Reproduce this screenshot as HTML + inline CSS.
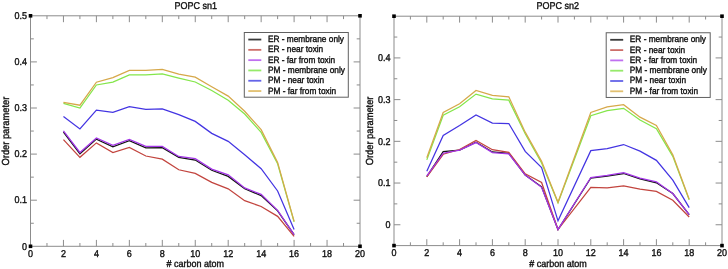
<!DOCTYPE html>
<html><head><meta charset="utf-8"><title>POPC order parameters</title>
<style>
html,body{margin:0;padding:0;background:#fff;}
body{width:728px;height:269px;overflow:hidden;}
svg{display:block;text-rendering:geometricPrecision;-webkit-font-smoothing:antialiased;will-change:transform;font-family:"Liberation Sans", sans-serif;font-size:9.0px;}
</style></head>
<body>
<svg width="728" height="269" viewBox="0 0 728 269">
<rect width="100%" height="100%" fill="#fff"/>
<g fill="none" stroke-width="1.25" stroke-linejoin="miter">
<polyline points="63.45,132.2 79.92,153.73 96.4,139.12 112.88,146.72 129.35,140.73 145.82,147.92 162.3,147.65 178.78,157.33 195.25,160.09 211.72,170.24 228.2,176.41 244.68,188.81 261.15,195.59 277.62,210.8 294.1,234.59" stroke="#141414"/>
<polyline points="63.45,139.62 79.92,157.33 96.4,142.9 112.88,152.49 129.35,147.42 145.82,155.99 162.3,159.17 178.78,169.77 195.25,173.46 211.72,182.41 228.2,188.81 244.68,200.66 261.15,206.52 277.62,216.34 294.1,236.3" stroke="#c2443e"/>
<polyline points="63.45,130.82 79.92,152.49 96.4,137.97 112.88,145.34 129.35,139.39 145.82,146.4 162.3,146.4 178.78,156.41 195.25,158.71 211.72,169.08 228.2,174.85 244.68,187.89 261.15,194.39 277.62,210.34 294.1,234.59" stroke="#a436e8"/>
<polyline points="63.45,103.39 79.92,108 96.4,84.95 112.88,82.18 129.35,74.81 145.82,74.81 162.3,73.89 178.78,78.04 195.25,82 211.72,90.48 228.2,100.16 244.68,113.99 261.15,132.43 277.62,163.78 294.1,221.87" stroke="#84e64a"/>
<polyline points="63.45,116.39 79.92,129.02 96.4,110.12 112.88,112.38 129.35,106.62 145.82,109.38 162.3,108.92 178.78,114.59 195.25,121.37 211.72,133.36 228.2,141.38 244.68,154.79 261.15,168.71 277.62,190.98 294.1,229.38" stroke="#4334e2"/>
<polyline points="63.45,102.47 79.92,105.23 96.4,82.18 112.88,77.57 129.35,70.38 145.82,70.38 162.3,69.41 178.78,74.12 195.25,77.11 211.72,86.79 228.2,96.11 244.68,111.23 261.15,129.67 277.62,162.4 294.1,221.41" stroke="#d6a84a"/>
</g>
<rect x="30.5" y="15.8" width="329.5" height="230.5" fill="none" stroke="#8c8c8c" stroke-width="1.0"/>
<path d="M46.98 246.3v-3.3M46.98 15.8v3.3M63.45 246.3v-6.4M63.45 15.8v6.4M79.92 246.3v-3.3M79.92 15.8v3.3M96.4 246.3v-6.4M96.4 15.8v6.4M112.88 246.3v-3.3M112.88 15.8v3.3M129.35 246.3v-6.4M129.35 15.8v6.4M145.82 246.3v-3.3M145.82 15.8v3.3M162.3 246.3v-6.4M162.3 15.8v6.4M178.78 246.3v-3.3M178.78 15.8v3.3M195.25 246.3v-6.4M195.25 15.8v6.4M211.72 246.3v-3.3M211.72 15.8v3.3M228.2 246.3v-6.4M228.2 15.8v6.4M244.68 246.3v-3.3M244.68 15.8v3.3M261.15 246.3v-6.4M261.15 15.8v6.4M277.62 246.3v-3.3M277.62 15.8v3.3M294.1 246.3v-6.4M294.1 15.8v6.4M310.57 246.3v-3.3M310.57 15.8v3.3M327.05 246.3v-6.4M327.05 15.8v6.4M343.52 246.3v-3.3M343.52 15.8v3.3M30.5 200.2h6.4M360 200.2h-6.4M30.5 154.1h6.4M360 154.1h-6.4M30.5 108h6.4M360 108h-6.4M30.5 61.9h6.4M360 61.9h-6.4M30.5 223.25h3.3M360 223.25h-3.3M30.5 177.15h3.3M360 177.15h-3.3M30.5 131.05h3.3M360 131.05h-3.3M30.5 84.95h3.3M360 84.95h-3.3M30.5 38.85h3.3M360 38.85h-3.3" stroke="#8c8c8c" stroke-width="1.0" fill="none"/>
<rect x="28.7" y="14" width="3.6" height="3.6" fill="#000"/>
<rect x="358.2" y="14" width="3.6" height="3.6" fill="#000"/>
<rect x="28.7" y="244.5" width="3.6" height="3.6" fill="#000"/>
<rect x="358.2" y="244.5" width="3.6" height="3.6" fill="#000"/>
<g fill="#111" stroke="#111" stroke-width="0.35">
<text transform="translate(30.5 256.8) scale(1 1.1)" text-anchor="middle">0</text>
<text transform="translate(63.45 256.8) scale(1 1.1)" text-anchor="middle">2</text>
<text transform="translate(96.4 256.8) scale(1 1.1)" text-anchor="middle">4</text>
<text transform="translate(129.35 256.8) scale(1 1.1)" text-anchor="middle">6</text>
<text transform="translate(162.3 256.8) scale(1 1.1)" text-anchor="middle">8</text>
<text transform="translate(195.25 256.8) scale(1 1.1)" text-anchor="middle">10</text>
<text transform="translate(228.2 256.8) scale(1 1.1)" text-anchor="middle">12</text>
<text transform="translate(261.15 256.8) scale(1 1.1)" text-anchor="middle">14</text>
<text transform="translate(294.1 256.8) scale(1 1.1)" text-anchor="middle">16</text>
<text transform="translate(327.05 256.8) scale(1 1.1)" text-anchor="middle">18</text>
<text transform="translate(360 256.8) scale(1 1.1)" text-anchor="middle">20</text>
<text transform="translate(27 249.5) scale(1 1.1)" text-anchor="end">0</text>
<text transform="translate(27 203.4) scale(1 1.1)" text-anchor="end">0.1</text>
<text transform="translate(27 157.3) scale(1 1.1)" text-anchor="end">0.2</text>
<text transform="translate(27 111.2) scale(1 1.1)" text-anchor="end">0.3</text>
<text transform="translate(27 65.1) scale(1 1.1)" text-anchor="end">0.4</text>
<text transform="translate(27 19) scale(1 1.1)" text-anchor="end">0.5</text>
<text transform="translate(195.75 8.6) scale(1 1.1)" text-anchor="middle">POPC sn1</text>
<text transform="translate(195.25 267.3) scale(1 1.1)" text-anchor="middle"># carbon atom</text>
<text transform="translate(9.2 131.05) rotate(-90) scale(1 1.1)" text-anchor="middle" font-size="9.3">Order parameter</text>
</g>
<rect x="244.3" y="32.5" width="104" height="64.7" fill="#fff" stroke="#606060" stroke-width="1"/>
<path d="M248.3 39.55h13" stroke="#3a3a3a" stroke-width="1.8"/>
<path d="M248.3 49.85h13" stroke="#cd6e69" stroke-width="1.8"/>
<path d="M248.3 60.15h13" stroke="#c070f0" stroke-width="1.8"/>
<path d="M248.3 70.45h13" stroke="#96ea6a" stroke-width="1.8"/>
<path d="M248.3 80.75h13" stroke="#6464e8" stroke-width="1.8"/>
<path d="M248.3 91.05h13" stroke="#e2c070" stroke-width="1.8"/>
<g fill="#111" stroke="#111" stroke-width="0.35">
<text transform="translate(267.9 42) scale(1 1.1)" font-size="8.3">ER - membrane only</text>
<text transform="translate(267.9 52.3) scale(1 1.1)" font-size="8.3">ER - near toxin</text>
<text transform="translate(267.9 62.6) scale(1 1.1)" font-size="8.3">ER - far from toxin</text>
<text transform="translate(267.9 72.9) scale(1 1.1)" font-size="8.3">PM - membrane only</text>
<text transform="translate(267.9 83.2) scale(1 1.1)" font-size="8.3">PM - near toxin</text>
<text transform="translate(267.9 93.5) scale(1 1.1)" font-size="8.3">PM - far from toxin</text>
</g>
<g fill="none" stroke-width="1.25" stroke-linejoin="miter">
<polyline points="426.8,176.57 443.2,151.55 459.6,150.09 476,142.16 492.4,151.92 508.8,153.42 525.2,175.11 541.6,186.79 558,229.54 590.8,178.03 607.2,176.03 623.6,173.53 640,178.87 656.4,182.83 672.8,193.55 689.2,214.74" stroke="#141414"/>
<polyline points="426.8,176.78 443.2,154.26 459.6,149.54 476,140.41 492.4,149.67 508.8,152.34 525.2,173.86 541.6,182.45 558,229.54 590.8,187.29 607.2,187.92 623.6,185.83 640,189.13 656.4,191.38 672.8,200.22 689.2,216.95" stroke="#c2443e"/>
<polyline points="426.8,175.95 443.2,153.21 459.6,150.09 476,142.58 492.4,152.59 508.8,153.84 525.2,175.11 541.6,187.33 558,229.54 590.8,177.53 607.2,175.45 623.6,172.73 640,178.03 656.4,181.79 672.8,193.55 689.2,214.74" stroke="#a436e8"/>
<polyline points="426.8,159.89 443.2,115.26 459.6,106.83 476,94.11 492.4,98.78 508.8,100.2 525.2,133.82 541.6,163.02 558,202.81 590.8,115.72 607.2,110.63 623.6,108.34 640,120.06 656.4,128.73 672.8,156.34 689.2,199.85" stroke="#84e64a"/>
<polyline points="426.8,171.36 443.2,135.4 459.6,125.48 476,115.05 492.4,123.18 508.8,123.52 525.2,151.42 541.6,167.6 558,220.87 590.8,150.63 607.2,148.71 623.6,144.54 640,151.13 656.4,160.35 672.8,180.12 689.2,207.64" stroke="#4334e2"/>
<polyline points="426.8,157.8 443.2,112.55 459.6,103.79 476,90.44 492.4,95.45 508.8,96.82 525.2,132.15 541.6,161.35 558,202.22 590.8,112.42 607.2,106.83 623.6,104.71 640,117.14 656.4,125.48 672.8,154.67 689.2,199.3" stroke="#d6a84a"/>
</g>
<rect x="394" y="16.2" width="328" height="229.4" fill="none" stroke="#8c8c8c" stroke-width="1.0"/>
<path d="M410.4 245.6v-3.3M410.4 16.2v3.3M426.8 245.6v-6.4M426.8 16.2v6.4M443.2 245.6v-3.3M443.2 16.2v3.3M459.6 245.6v-6.4M459.6 16.2v6.4M476 245.6v-3.3M476 16.2v3.3M492.4 245.6v-6.4M492.4 16.2v6.4M508.8 245.6v-3.3M508.8 16.2v3.3M525.2 245.6v-6.4M525.2 16.2v6.4M541.6 245.6v-3.3M541.6 16.2v3.3M558 245.6v-6.4M558 16.2v6.4M574.4 245.6v-3.3M574.4 16.2v3.3M590.8 245.6v-6.4M590.8 16.2v6.4M607.2 245.6v-3.3M607.2 16.2v3.3M623.6 245.6v-6.4M623.6 16.2v6.4M640 245.6v-3.3M640 16.2v3.3M656.4 245.6v-6.4M656.4 16.2v6.4M672.8 245.6v-3.3M672.8 16.2v3.3M689.2 245.6v-6.4M689.2 16.2v6.4M705.6 245.6v-3.3M705.6 16.2v3.3M394 224.75h6.4M722 224.75h-6.4M394 183.04h6.4M722 183.04h-6.4M394 141.33h6.4M722 141.33h-6.4M394 99.62h6.4M722 99.62h-6.4M394 57.91h6.4M722 57.91h-6.4M394 203.89h3.3M722 203.89h-3.3M394 162.18h3.3M722 162.18h-3.3M394 120.47h3.3M722 120.47h-3.3M394 78.76h3.3M722 78.76h-3.3M394 37.05h3.3M722 37.05h-3.3" stroke="#8c8c8c" stroke-width="1.0" fill="none"/>
<rect x="392.2" y="14.4" width="3.6" height="3.6" fill="#000"/>
<rect x="720.2" y="14.4" width="3.6" height="3.6" fill="#000"/>
<rect x="392.2" y="243.8" width="3.6" height="3.6" fill="#000"/>
<rect x="720.2" y="243.8" width="3.6" height="3.6" fill="#000"/>
<g fill="#111" stroke="#111" stroke-width="0.35">
<text transform="translate(394 256.1) scale(1 1.1)" text-anchor="middle">0</text>
<text transform="translate(426.8 256.1) scale(1 1.1)" text-anchor="middle">2</text>
<text transform="translate(459.6 256.1) scale(1 1.1)" text-anchor="middle">4</text>
<text transform="translate(492.4 256.1) scale(1 1.1)" text-anchor="middle">6</text>
<text transform="translate(525.2 256.1) scale(1 1.1)" text-anchor="middle">8</text>
<text transform="translate(558 256.1) scale(1 1.1)" text-anchor="middle">10</text>
<text transform="translate(590.8 256.1) scale(1 1.1)" text-anchor="middle">12</text>
<text transform="translate(623.6 256.1) scale(1 1.1)" text-anchor="middle">14</text>
<text transform="translate(656.4 256.1) scale(1 1.1)" text-anchor="middle">16</text>
<text transform="translate(689.2 256.1) scale(1 1.1)" text-anchor="middle">18</text>
<text transform="translate(722 256.1) scale(1 1.1)" text-anchor="middle">20</text>
<text transform="translate(390.5 227.95) scale(1 1.1)" text-anchor="end">0</text>
<text transform="translate(390.5 186.24) scale(1 1.1)" text-anchor="end">0.1</text>
<text transform="translate(390.5 144.53) scale(1 1.1)" text-anchor="end">0.2</text>
<text transform="translate(390.5 102.82) scale(1 1.1)" text-anchor="end">0.3</text>
<text transform="translate(390.5 61.11) scale(1 1.1)" text-anchor="end">0.4</text>
<text transform="translate(557.8 9) scale(1 1.1)" text-anchor="middle">POPC sn2</text>
<text transform="translate(558 266.6) scale(1 1.1)" text-anchor="middle"># carbon atom</text>
<text transform="translate(372.7 130.9) rotate(-90) scale(1 1.1)" text-anchor="middle" font-size="9.3">Order parameter</text>
</g>
<rect x="606.2" y="32.75" width="104" height="64.7" fill="#fff" stroke="#606060" stroke-width="1"/>
<path d="M610.2 39.8h13" stroke="#3a3a3a" stroke-width="1.8"/>
<path d="M610.2 50.1h13" stroke="#cd6e69" stroke-width="1.8"/>
<path d="M610.2 60.4h13" stroke="#c070f0" stroke-width="1.8"/>
<path d="M610.2 70.7h13" stroke="#96ea6a" stroke-width="1.8"/>
<path d="M610.2 81h13" stroke="#6464e8" stroke-width="1.8"/>
<path d="M610.2 91.3h13" stroke="#e2c070" stroke-width="1.8"/>
<g fill="#111" stroke="#111" stroke-width="0.35">
<text transform="translate(629.8 42.25) scale(1 1.1)" font-size="8.3">ER - membrane only</text>
<text transform="translate(629.8 52.55) scale(1 1.1)" font-size="8.3">ER - near toxin</text>
<text transform="translate(629.8 62.85) scale(1 1.1)" font-size="8.3">ER - far from toxin</text>
<text transform="translate(629.8 73.15) scale(1 1.1)" font-size="8.3">PM - membrane only</text>
<text transform="translate(629.8 83.45) scale(1 1.1)" font-size="8.3">PM - near toxin</text>
<text transform="translate(629.8 93.75) scale(1 1.1)" font-size="8.3">PM - far from toxin</text>
</g>
</svg>
</body></html>
